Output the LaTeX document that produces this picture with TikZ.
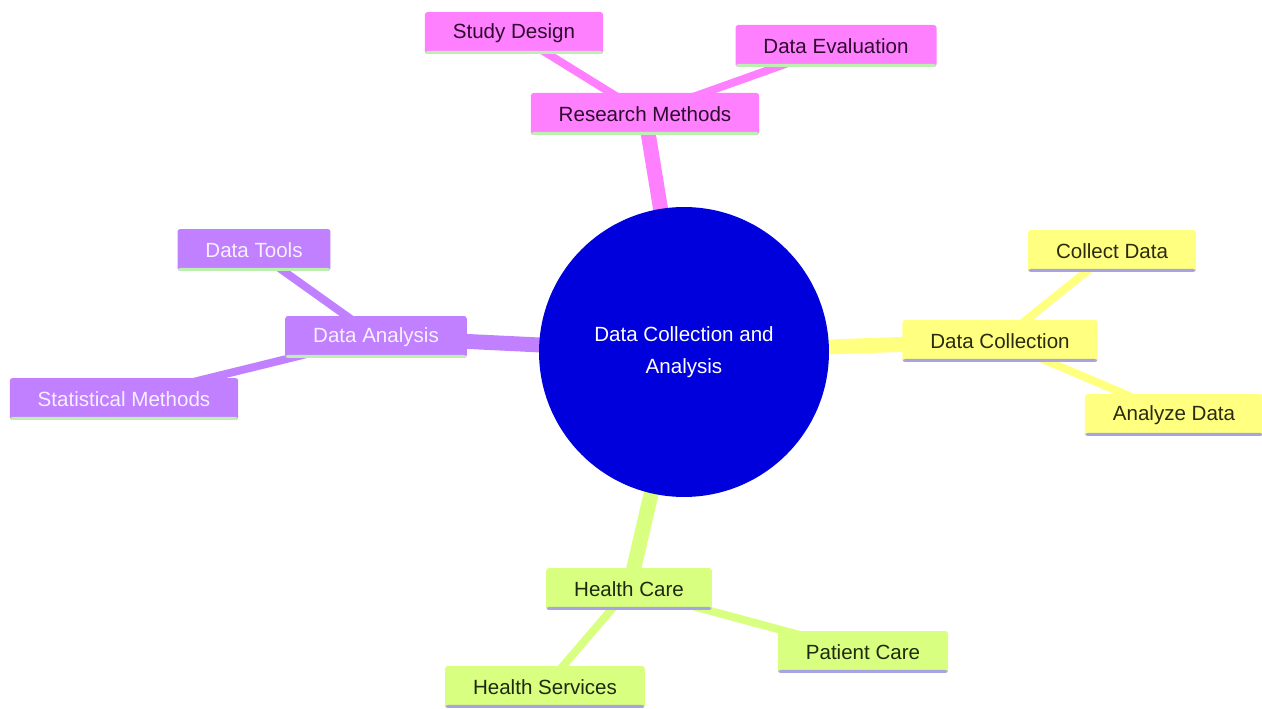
\documentclass[tikz,border=0pt]{standalone}
\usepackage{fontspec}
\setmainfont{Liberation Sans}
\usetikzlibrary{backgrounds}
\definecolor{pinkc}{HTML}{FF80FF}
\definecolor{pinkt}{HTML}{2E0A2E}
\definecolor{purpc}{HTML}{C080FF}
\definecolor{purpt}{HTML}{F8F0FF}
\definecolor{yellc}{HTML}{FFFF80}
\definecolor{yellt}{HTML}{2A2A10}
\definecolor{limec}{HTML}{D9FF80}
\definecolor{limet}{HTML}{1E2A10}
\definecolor{greenline}{HTML}{BDF0B0}
\definecolor{lavline}{HTML}{A8A4E4}
\definecolor{rootc}{HTML}{0000DC}
\tikzset{
  box/.style={rectangle, rounded corners=1.6pt, minimum height=0.84cm,
    inner xsep=15.9pt, inner ysep=0pt,
    font=\fontsize{11.7}{14}\selectfont},
  uline/.style={path picture={\fill[#1] (path picture bounding box.south west) rectangle ([yshift=0.06cm]path picture bounding box.south east);}},
  pinkbox/.style={box, fill=pinkc, text=pinkt, uline=greenline},
  purpbox/.style={box, fill=purpc, text=purpt, uline=greenline},
  yellbox/.style={box, fill=yellc, text=yellt, uline=lavline},
  limebox/.style={box, fill=limec, text=limet, uline=lavline},
  mainedge/.style={line width=8.5pt},
  subedge/.style={line width=4.5pt},
}
\begin{document}
\begin{tikzpicture}[x=0.02cm,y=-0.02cm]
\useasboundingbox (0,0) rectangle (1262,709);
\node[circle, fill=rootc, text=white, minimum size=5.8cm, inner sep=0pt, align=center,
  font=\fontsize{11.7}{18}\selectfont] (root) at (684,352) {Data Collection and\\Analysis};
% Research Methods
\node[pinkbox] (rm) at (645,114) {Research Methods};
\node[pinkbox] (sd) at (514,33) {Study Design};
\node[pinkbox] (de) at (836,46) {Data Evaluation};
% Data Analysis
\node[purpbox] (da) at (376,337) {Data Analysis};
\node[purpbox] (dt) at (254,250) {Data Tools};
\node[purpbox] (sm) at (124,399) {Statistical Methods};
% Data Collection
\node[yellbox] (dc) at (1000,341) {Data Collection};
\node[yellbox] (cd) at (1112,251) {Collect Data};
\node[yellbox] (ad) at (1174,415) {Analyze Data};
% Health Care
\node[limebox] (hc) at (629,589) {Health Care};
\node[limebox] (pc) at (863,652) {Patient Care};
\node[limebox] (hs) at (545,687) {Health Services};
\begin{scope}[on background layer]
\fill[white] (0,0) rectangle (1262,709);
\draw[subedge, pinkc] (rm.center) -- (sd.center);
\draw[subedge, pinkc] (rm.center) -- (de.center);
\draw[subedge, purpc] (da.center) -- (dt.center);
\draw[subedge, purpc] (da.center) -- (sm.center);
\draw[subedge, yellc] (dc.center) -- (cd.center);
\draw[subedge, yellc] (dc.center) -- (ad.center);
\draw[subedge, limec] (hc.center) -- (pc.center);
\draw[subedge, limec] (hc.center) -- (hs.center);
\draw[mainedge, pinkc] (root.center) -- (rm.center);
\draw[mainedge, purpc] (root.center) -- (da.center);
\draw[mainedge, yellc] (root.center) -- (dc.center);
\draw[mainedge, limec] (root.center) -- (hc.center);
\end{scope}
\end{tikzpicture}
\end{document}
